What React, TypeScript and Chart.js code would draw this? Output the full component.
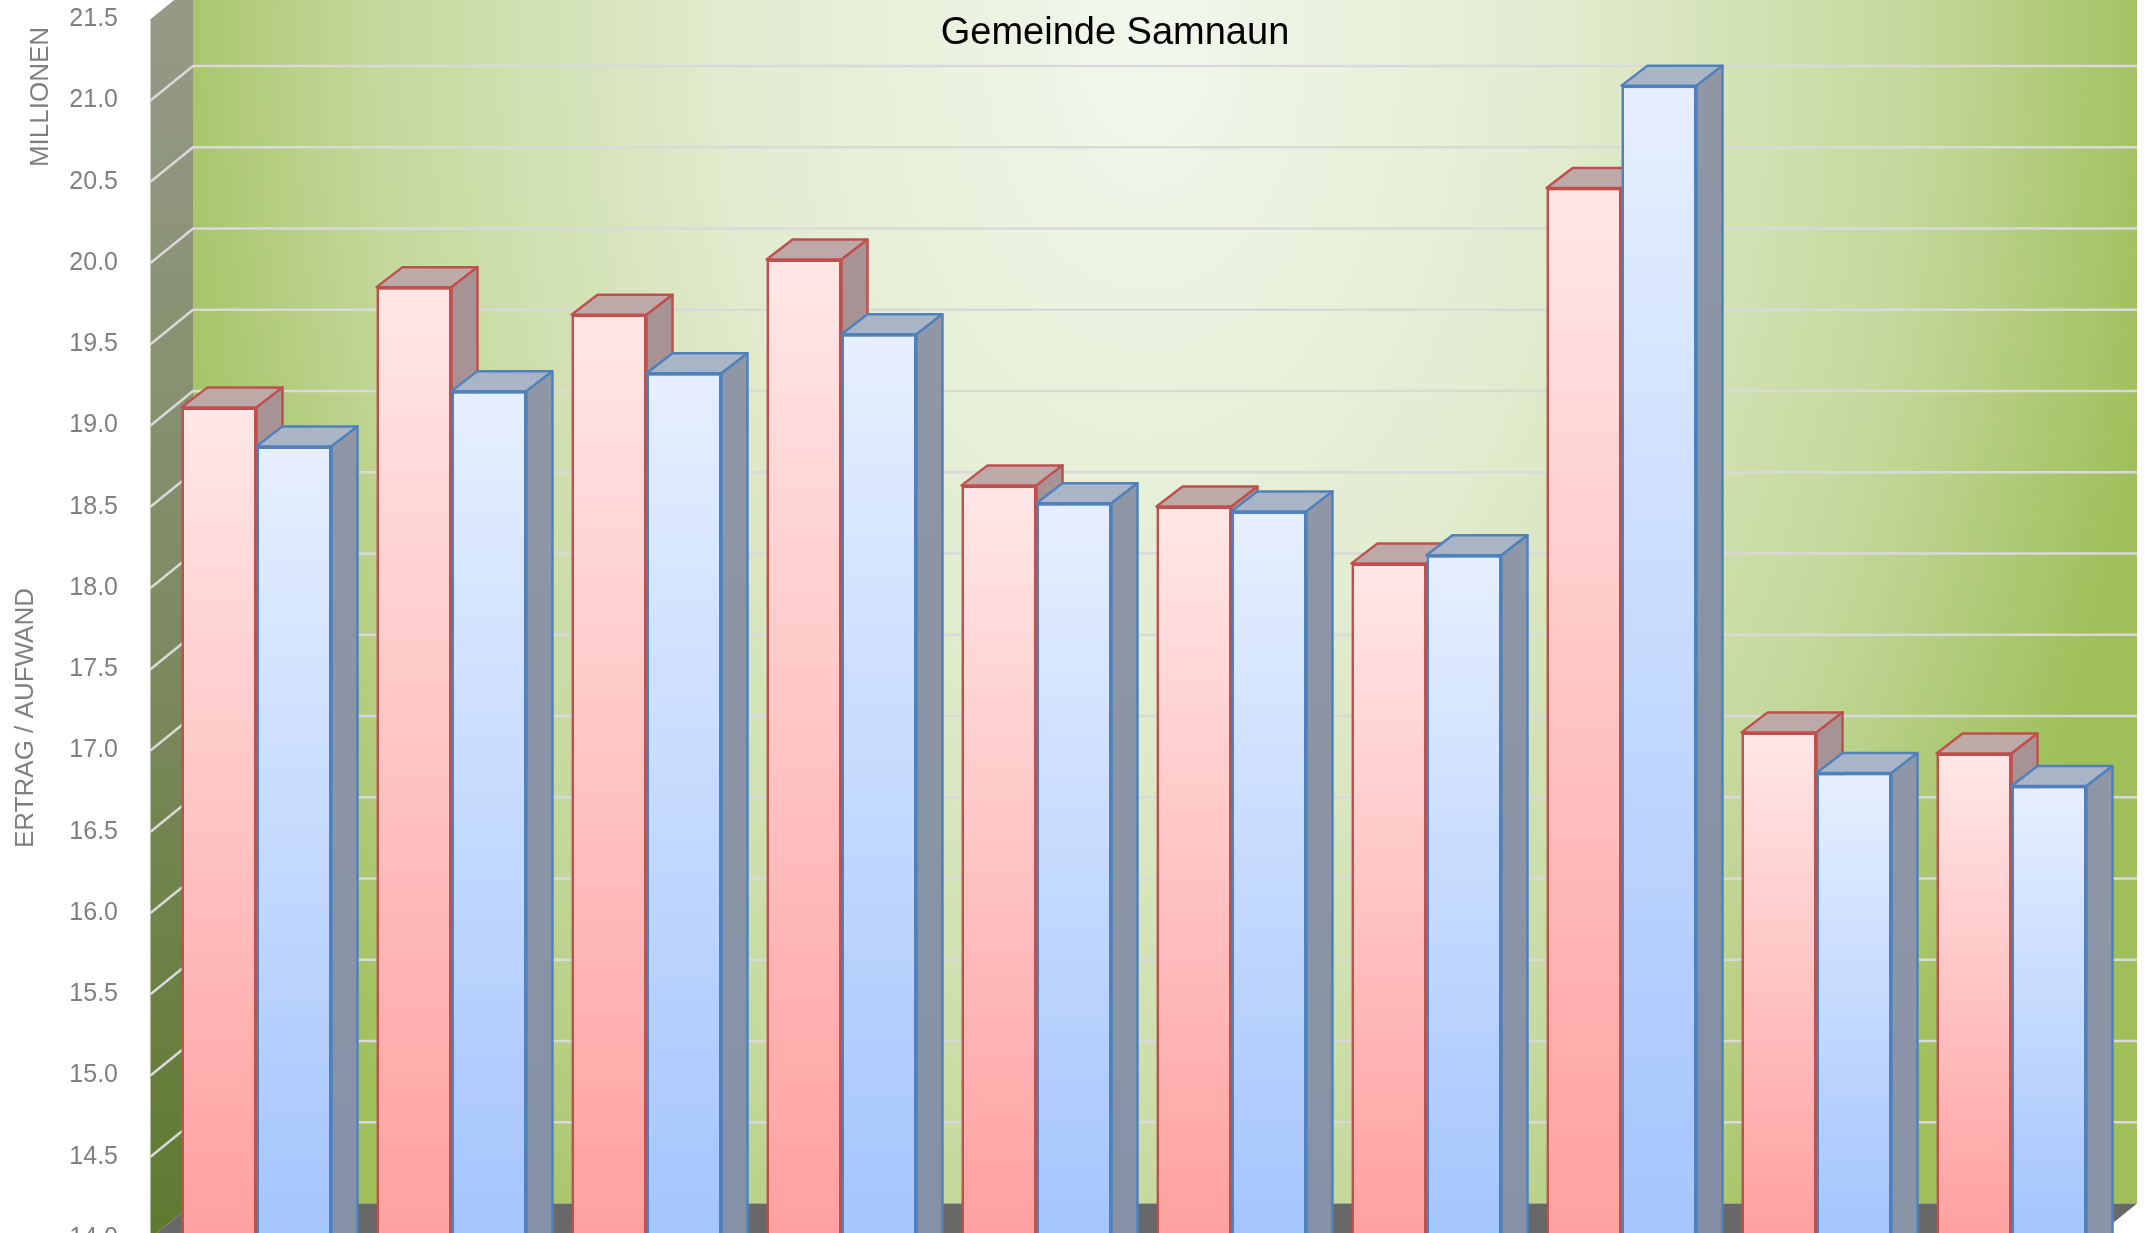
import { useEffect, useRef } from 'react';
import { Chart, registerables } from 'chart.js';

Chart.register(...registerables);

// ---------- data ----------
const CATEGORIES = ['1', '2', '3', '4', '5', '6', '7', '8', '9', '10'];
const ERTRAG = [19.05, 19.79, 19.62, 19.96, 18.57, 18.44, 18.09, 20.40, 17.05, 16.92];
const AUFWAND = [18.81, 19.15, 19.26, 19.50, 18.46, 18.41, 18.14, 21.03, 16.80, 16.72];
const Y_MIN = 14;
const Y_MAX = 21.5;
const Y_STEP = 0.5;
const TITLE = 'Gemeinde Samnaun';
const AXIS_TITLE_TOP = 'MILLIONEN';
const AXIS_TITLE_BOTTOM = 'ERTRAG / AUFWAND';

// ---------- styles ----------
const FONT = '"Liberation Sans", Arial, Helvetica, sans-serif';
const W = 2149;
const H = 1233;
const DEPTH_DX = 26;
const DEPTH_DY = 20;

const STYLE = [
  {
    frontTop: '#ffe7e7', frontBottom: '#ffa1a1', border: '#c0504d',
    topFace: '#bea9a9', sideTop: '#a79393', sideBottom: '#8c7070',
  },
  {
    frontTop: '#e6efff', frontBottom: '#a5c5fd', border: '#4f81bd',
    topFace: '#aab4c7', sideTop: '#8f97a6', sideBottom: '#6980a8',
  },
];

function frontFill(top: string, bottom: string) {
  return (c: any) => {
    const chart = c.chart;
    const ys = chart.scales && chart.scales.y;
    if (c.type !== 'data' || !ys || !chart.chartArea) return bottom;
    const v = c.parsed ? c.parsed.y : c.raw;
    const y1 = ys.getPixelForValue(v);
    const y2 = ys.getPixelForValue(ys.min);
    if (!isFinite(y1) || !isFinite(y2) || Math.abs(y2 - y1) < 1) return bottom;
    const g = chart.ctx.createLinearGradient(0, y1, 0, y2);
    g.addColorStop(0, top);
    g.addColorStop(1, bottom);
    return g;
  };
}

const scene3d = {
  id: 'scene3d',
  beforeDatasetsDraw(chart: any) {
    const { ctx, chartArea: ca, scales } = chart;
    const y = scales.y;
    const y0 = y.getPixelForValue(Y_MIN);
    const yT = y.getPixelForValue(Y_MAX);
    const frontL = ca.left - 8.5;
    const backL = ca.left + 34;
    const backR = ca.right + 28;
    const fOff = 10;
    const bOff = -24.5;

    // back wall: elliptical radial gradient
    ctx.save();
    ctx.beginPath();
    ctx.rect(backL, yT + bOff - 60, backR - backL, y0 + bOff - (yT + bOff - 60));
    ctx.clip();
    const cx = backL + 0.49 * (backR - backL);
    const cy = 40;
    const rx = 1030;
    const ry = 1600;
    ctx.translate(cx, cy);
    ctx.scale(1, ry / rx);
    const rg = ctx.createRadialGradient(0, 0, 0, 0, 0, rx);
    rg.addColorStop(0, '#f2f7ec');
    rg.addColorStop(0.4, '#e2ecd0');
    rg.addColorStop(0.75, '#c4d89b');
    rg.addColorStop(1, '#9ebf5a');
    ctx.fillStyle = rg;
    ctx.fillRect(-3000, -3000, 6000, 6000);
    ctx.restore();

    // left wall
    ctx.save();
    ctx.beginPath();
    ctx.moveTo(frontL, yT + fOff);
    ctx.lineTo(backL, yT + bOff);
    ctx.lineTo(backL, y0 + bOff);
    ctx.lineTo(frontL, y0 + fOff);
    ctx.closePath();
    const lg = ctx.createLinearGradient(0, yT, 0, y0);
    lg.addColorStop(0, '#959a87');
    lg.addColorStop(0.5, '#7f8a62');
    lg.addColorStop(1, '#5e7a30');
    ctx.fillStyle = lg;
    ctx.fill();
    ctx.restore();

    // floor
    ctx.save();
    ctx.beginPath();
    ctx.moveTo(frontL, y0 + fOff);
    ctx.lineTo(backL, y0 + bOff);
    ctx.lineTo(backR, y0 + bOff);
    ctx.lineTo(backR - (backL - frontL), y0 + fOff);
    ctx.closePath();
    ctx.fillStyle = '#686868';
    ctx.fill();
    ctx.restore();

    // gridlines
    ctx.save();
    ctx.strokeStyle = '#d9d9d9';
    ctx.lineWidth = 2.5;
    for (const t of y.ticks) {
      if (t.value <= Y_MIN + 1e-9 || t.value >= Y_MAX - 1e-9) continue;
      const p = y.getPixelForValue(t.value);
      ctx.beginPath();
      ctx.moveTo(frontL, p + fOff);
      ctx.lineTo(backL, p + bOff);
      ctx.lineTo(backR, p + bOff);
      ctx.stroke();
    }
    ctx.restore();
  },
  afterDatasetsDraw(chart: any) {
    const ctx = chart.ctx;
    chart.data.datasets.forEach((_ds: any, di: number) => {
      const meta = chart.getDatasetMeta(di);
      const st = STYLE[di];
      meta.data.forEach((bar: any) => {
        const { x, y, base, width } = bar.getProps(['x', 'y', 'base', 'width'], true);
        bar.draw(ctx);
        const l = x - width / 2;
        const r = x + width / 2;
        ctx.save();
        ctx.lineJoin = 'round';
        ctx.lineWidth = 2.5;
        ctx.strokeStyle = st.border;
        // top face
        ctx.beginPath();
        ctx.moveTo(l, y);
        ctx.lineTo(r, y);
        ctx.lineTo(r + DEPTH_DX, y - DEPTH_DY);
        ctx.lineTo(l + DEPTH_DX, y - DEPTH_DY);
        ctx.closePath();
        ctx.fillStyle = st.topFace;
        ctx.fill();
        ctx.stroke();
        // side face
        ctx.beginPath();
        ctx.moveTo(r, y);
        ctx.lineTo(r + DEPTH_DX, y - DEPTH_DY);
        ctx.lineTo(r + DEPTH_DX, base - DEPTH_DY);
        ctx.lineTo(r, base);
        ctx.closePath();
        const g = ctx.createLinearGradient(0, y, 0, base);
        g.addColorStop(0, st.sideTop);
        g.addColorStop(1, st.sideBottom);
        ctx.fillStyle = g;
        ctx.fill();
        ctx.stroke();
        ctx.restore();
      });
    });
  },
  afterDraw(chart: any) {
    const ctx = chart.ctx;
    ctx.save();
    // title
    ctx.fillStyle = '#000000';
    ctx.font = `38px ${FONT}`;
    ctx.textAlign = 'center';
    ctx.textBaseline = 'alphabetic';
    ctx.fillText(TITLE, 1115, 44);
    // rotated axis titles
    ctx.fillStyle = '#808080';
    ctx.font = `26px ${FONT}`;
    ctx.textAlign = 'center';
    ctx.save();
    ctx.translate(48, 97);
    ctx.rotate(-Math.PI / 2);
    ctx.fillText(AXIS_TITLE_TOP, 0, 0);
    ctx.restore();
    ctx.save();
    ctx.translate(33, 718);
    ctx.rotate(-Math.PI / 2);
    ctx.fillText(AXIS_TITLE_BOTTOM, 0, 0);
    ctx.restore();
    ctx.restore();
  },
};

export default function App() {
  const ref = useRef<HTMLCanvasElement | null>(null);
  useEffect(() => {
    if (!ref.current) return;
    const chart = new Chart(ref.current, {
      type: 'bar',
      data: {
        labels: CATEGORIES,
        datasets: [
          {
            label: 'Ertrag',
            data: ERTRAG,
            backgroundColor: frontFill(STYLE[0].frontTop, STYLE[0].frontBottom),
            borderColor: STYLE[0].border,
            borderWidth: 2.5,
            categoryPercentage: 0.769,
            barPercentage: 1.0,
          },
          {
            label: 'Aufwand',
            data: AUFWAND,
            backgroundColor: frontFill(STYLE[1].frontTop, STYLE[1].frontBottom),
            borderColor: STYLE[1].border,
            borderWidth: 2.5,
            categoryPercentage: 0.769,
            barPercentage: 1.0,
          },
        ],
      },
      options: {
        animation: false,
        responsive: false,
        maintainAspectRatio: false,
        devicePixelRatio: 1,
        layout: { padding: { left: 0, top: 9.25, right: 40, bottom: 5 } },
        plugins: {
          legend: { display: false },
          title: { display: false },
          tooltip: { enabled: false },
        },
        scales: {
          x: { display: false },
          y: {
            min: Y_MIN,
            max: Y_MAX,
            grid: { display: false, drawTicks: false },
            border: { display: false },
            ticks: {
              stepSize: Y_STEP,
              padding: 41,
              labelOffset: 10,
              color: '#808080',
              font: { family: FONT, size: 25 },
              autoSkip: false,
              callback: (v: any) => Number(v).toFixed(1),
            },
            afterFit: (s: any) => {
              s.width = 159;
              s.paddingTop = 0;
              s.paddingBottom = 0;
              s.paddingLeft = 0;
              s.paddingRight = 0;
            },
          },
        },
      },
      plugins: [scene3d],
    } as any);
    return () => chart.destroy();
  }, []);
  return (
    <div
      style={{
        position: 'fixed',
        left: 0,
        top: 0,
        width: W,
        height: H,
        overflow: 'hidden',
        background: '#ffffff',
      }}
    >
      <canvas ref={ref} width={W} height={H} style={{ display: 'block' }} />
    </div>
  );
}
